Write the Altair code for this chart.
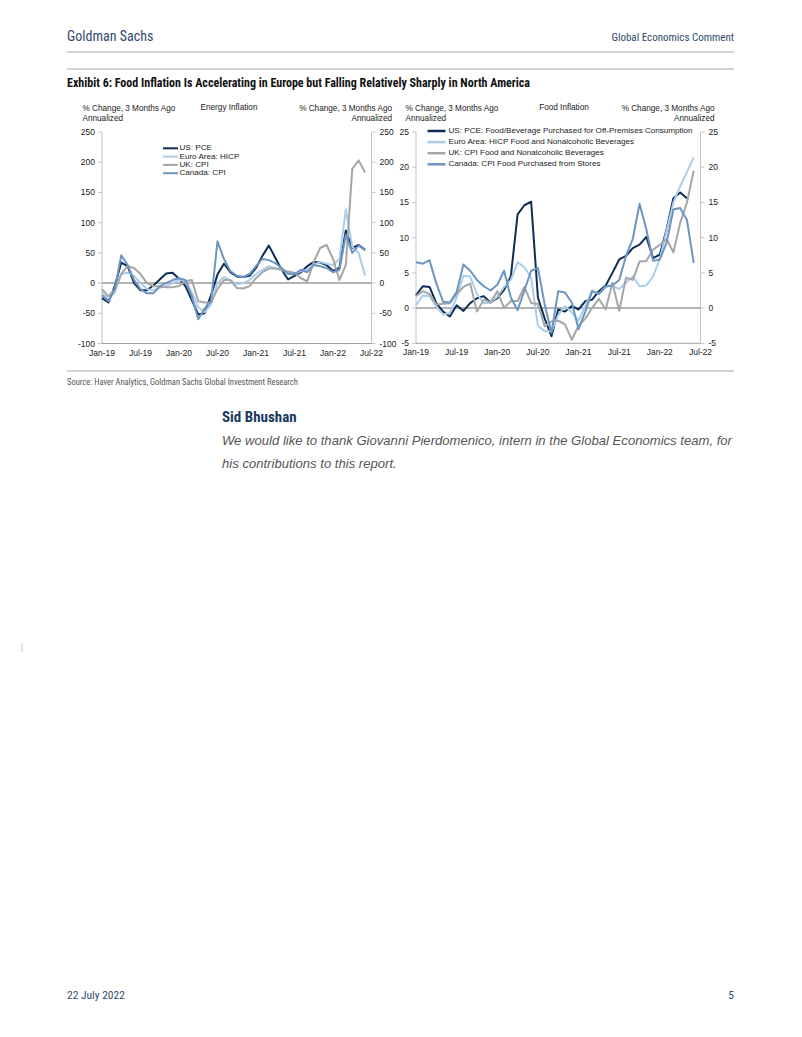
import altair as alt
import pandas as pd

# ---------------- data ----------------
tick_months = [0, 6, 12, 18, 24, 30, 36, 42]
tick_labels = ["Jan-19", "Jul-19", "Jan-20", "Jul-20", "Jan-21", "Jul-21", "Jan-22", "Jul-22"]

energy_names = ["US: PCE", "Euro Area: HICP", "UK: CPI", "Canada: CPI"]
energy_us = [-25, -32, -5, 34, 28, 0, -12, -12, -4, 6, 16, 17, 7, -5, -28, -52, -50, -20, 14, 32,
             18, 11, 10, 12, 25, 45, 62, 42, 22, 6, 12, 18, 28, 35, 34, 30, 20, 25, 87, 58, 63, 55]
energy_ea = [-15, -28, -15, 15, 17, 12, 0, -10, -12, -8, -5, 0, 5, 3, -15, -40, -48, -35, 0, 10,
             5, -2, 0, 5, 15, 22, 28, 25, 22, 18, 15, 20, 22, 30, 35, 32, 30, 40, 122, 60, 50, 12]
energy_uk = [-10, -22, -10, 15, 28, 25, 15, 0, -5, -6, -7, -7, -5, 3, 5, -30, -32, -32, -10, 5,
             5, -8, -9, -5, 8, 18, 24, 24, 22, 19, 17, 8, 3, 35, 58, 63, 40, 5, 30, 189, 203, 183]
energy_ca = [-20, -30, -10, 46, 30, 5, -10, -17, -17, -5, 0, 5, 8, 5, -22, -60, -42, -30, 69, 40,
             20, 12, 10, 15, 28, 40, 38, 33, 25, 15, 15, 22, 18, 30, 28, 25, 18, 22, 80, 50, 62, 55]

food_names = ["US: PCE: Food/Beverage Purchased for Off-Premises Consumption",
              "Euro Area: HICP Food and Nonalcoholic Beverages",
              "UK: CPI Food and Nonalcoholic Beverages",
              "Canada: CPI Food Purchased from Stores"]
food_us = [1.8, 3.1, 3.0, 0.7, -0.5, -1.2, 0.4, -0.4, 0.7, 1.4, 1.7, 0.8, 1.4, 2.6, 4.5, 13.3, 14.6, 15.1,
           1.5, -1.5, -4.0, -0.2, -0.5, 0.3, -0.2, 1.0, 1.2, 2.4, 3.2, 5.0, 6.9, 7.4, 8.5, 9.0, 10.1,
           7.1, 7.6, 11.2, 15.6, 16.4, 15.6]
food_ea = [0.4, 1.8, 1.7, 0.2, -0.9, -0.7, 1.5, 4.6, 4.5, 2.0, 0.7, 0.8, 1.6, 3.0, 4.0, 6.5, 5.8, 4.3,
           -2.5, -3.3, -3.3, -1.0, 0.3, -0.6, -1.8, 0.3, 2.5, 2.0, 3.0, 3.2, 2.7, 3.6, 4.5, 3.1, 3.2,
           4.5, 7.0, 11.0, 15.0, 17.3, 19.3, 21.4]
food_uk = [1.7, 2.4, 2.0, 0.5, 0.6, 0.7, 2.0, 3.0, 3.5, -0.5, 1.2, 0.8, 2.4, 0.0, 1.0, 1.0, 3.0, 0.7,
           0.6, -2.6, -1.9, -1.8, -2.3, -4.5, -2.5, -1.5, 0.0, 1.3, -0.2, 3.6, -0.4, 4.3, 4.0, 6.6,
           6.7, 8.3, 9.0, 9.8, 7.9, 12.1, 15.0, 19.5]
food_ca = [6.5, 6.3, 6.8, 3.5, 0.9, 0.8, 2.3, 6.2, 5.3, 4.0, 3.1, 2.5, 3.3, 5.3, 1.5, -0.3, 2.5, 5.3,
           5.7, 0.5, -3.5, 2.4, 2.2, 0.8, -3.0, -0.5, 2.4, 2.0, 3.1, 3.2, 4.0, 7.4, 9.8, 14.8, 11.2,
           6.7, 6.9, 9.3, 14.0, 14.2, 12.5, 6.4]

energy_ticks = [-100, -50, 0, 50, 100, 150, 200, 250]
food_ticks = [-5, 0, 5, 10, 15, 20, 25]

# ---------------- style ----------------
COLORS = ["#0d2d54", "#a9cdea", "#a6a6a6", "#6d95c2"]
M = 8
W, H = 786, 1021
NARROW = "Roboto Condensed, Liberation Sans Narrow, DejaVu Sans Condensed, sans-serif"
SANS = "Liberation Sans, Arial, Helvetica, sans-serif"
NAVY = "#2f4b6c"
FS = 8.2


def px(v):
    return v - M


def text(txt, x, y, size, color="#222222", font=SANS, align="left", weight="normal",
         style="normal"):
    return alt.Chart(pd.DataFrame({"t": [txt]})).mark_text(
        align=align, baseline="middle", fontSize=size, font=font, color=color,
        fontWeight=weight, fontStyle=style
    ).encode(x=alt.value(px(x)), y=alt.value(px(y)), text="t:N")


def hrule(x0, x1, y, color="#a6a6a6", width=1.0):
    return alt.Chart(pd.DataFrame({"a": [0]})).mark_rule(color=color, strokeWidth=width).encode(
        x=alt.value(px(x0)), x2=alt.value(px(x1)), y=alt.value(px(y)))


def panel(names, series, ticks, ydom, xr, yr):
    xs = alt.Scale(domain=[0, 42], range=[px(xr[0]), px(xr[1])], nice=False, zero=False)
    ys = alt.Scale(domain=ydom, range=[px(yr[0]), px(yr[1])], nice=False, zero=False)
    cs = alt.Scale(domain=names, range=COLORS)
    X = lambda f: alt.X(f, type="quantitative", scale=xs, axis=None)
    Y = lambda f: alt.Y(f, type="quantitative", scale=ys, axis=None)

    frame = pd.DataFrame({"m0": [0], "m1": [42], "lo": [ydom[0]], "hi": [ydom[1]], "z": [0]})
    tdf = pd.DataFrame({"v": ticks, "m0": 0, "m1": 42, "lab": [str(t) for t in ticks]})
    xdf = pd.DataFrame({"m": tick_months, "lab": tick_labels, "lo": ydom[0]})

    layers = [
        alt.Chart(frame).mark_rule(color="#c4c4c4", strokeWidth=1).encode(x=X("m0"), y=Y("lo"), y2="hi:Q"),
        alt.Chart(frame).mark_rule(color="#c4c4c4", strokeWidth=1).encode(x=X("m1"), y=Y("lo"), y2="hi:Q"),
        alt.Chart(frame).mark_rule(color="#a0a0a0", strokeWidth=1).encode(x=X("m0"), x2="m1:Q", y=Y("lo")),
        alt.Chart(frame).mark_rule(color="#9a9a9a", strokeWidth=1.5).encode(x=X("m0"), x2="m1:Q", y=Y("z")),
        alt.Chart(tdf).mark_rule(color="#c4c4c4", strokeWidth=1, x2Offset=-4).encode(x=X("m0"), x2="m0:Q", y=Y("v")),
        alt.Chart(tdf).mark_rule(color="#c4c4c4", strokeWidth=1, x2Offset=4).encode(x=X("m1"), x2="m1:Q", y=Y("v")),
        alt.Chart(tdf).mark_text(align="right", baseline="middle", dx=-7, fontSize=8.5, font=SANS,
                                 color="#222222").encode(x=X("m0"), y=Y("v"), text="lab:N"),
        alt.Chart(tdf).mark_text(align="left", baseline="middle", dx=8, fontSize=8.5, font=SANS,
                                 color="#222222").encode(x=X("m1"), y=Y("v"), text="lab:N"),
        alt.Chart(xdf).mark_text(align="center", baseline="middle", dy=9, fontSize=8.5, font=SANS,
                                 color="#222222").encode(x=X("m"), y=Y("lo"), text="lab:N"),
    ]
    for name, vals in zip(names, series):
        d = pd.DataFrame({"m": list(range(len(vals))), "v": vals, "name": name})
        layers.append(
            alt.Chart(d).mark_line(strokeWidth=2, strokeJoin="round").encode(
                x=X("m"), y=Y("v"),
                color=alt.Color("name:N", scale=cs, legend=None)))
    return alt.layer(*layers)


def legend(names, x0, x1, tx, y0, dy, sw):
    cs = alt.Scale(domain=names, range=COLORS)
    d = pd.DataFrame({"name": names})
    d["ly"] = [px(y0 + i * dy) for i in range(len(names))]
    d["lx0"] = px(x0)
    d["lx1"] = px(x1)
    d["tx"] = px(tx)
    sw_layer = alt.Chart(d).mark_rule(strokeWidth=sw).encode(
        x=alt.X("lx0:Q", scale=None), x2="lx1:Q", y=alt.Y("ly:Q", scale=None),
        color=alt.Color("name:N", scale=cs, legend=None))
    tx_layer = alt.Chart(d).mark_text(align="left", baseline="middle", fontSize=8.1, font=SANS,
                                      color="#222222").encode(
        x=alt.X("tx:Q", scale=None), y=alt.Y("ly:Q", scale=None), text="name:N")
    return [sw_layer, tx_layer]


left = panel(energy_names, [energy_us, energy_ea, energy_uk, energy_ca], energy_ticks,
             [-100, 250], (102, 371.5), (343.5, 132))
right = panel(food_names, [food_us, food_ea, food_uk, food_ca], food_ticks,
              [-5, 25], (416, 700.5), (343.3, 132))

page = [
    text("Goldman Sachs", 67, 37, 14, NAVY, NARROW),
    text("Global Economics Comment", 734, 38, 11, NAVY, NARROW, align="right"),
    hrule(67, 734, 52),
    hrule(67, 734, 69),
    text("Exhibit 6: Food Inflation Is Accelerating in Europe but Falling Relatively Sharply in North America",
         67, 83, 12, "#111111", NARROW, weight="bold"),
    # left panel titles
    text("% Change, 3 Months Ago", 82.5, 108.5, FS),
    text("Annualized", 82.5, 118.5, FS),
    text("Energy Inflation", 229, 107.5, FS, align="center"),
    text("% Change, 3 Months Ago", 392, 108.5, FS, align="right"),
    text("Annualized", 392, 118.5, FS, align="right"),
    # right panel titles
    text("% Change, 3 Months Ago", 405.5, 108.5, FS),
    text("Annualized", 405.5, 118.5, FS),
    text("Food Inflation", 564, 107.5, FS, align="center"),
    text("% Change, 3 Months Ago", 714.5, 108.5, FS, align="right"),
    text("Annualized", 714.5, 118.5, FS, align="right"),
    hrule(67, 734, 371),
    text("Source: Haver Analytics, Goldman Sachs Global Investment Research", 67, 382, 8.5,
         "#555555", NARROW),
    text("Sid Bhushan", 222, 417, 15, "#1b3a63", NARROW, weight="bold"),
    text("We would like to thank Giovanni Pierdomenico, intern in the Global Economics team, for",
         222, 441, 13.1, "#555555", SANS, style="italic"),
    text("his contributions to this report.", 222, 464, 13.1, "#555555", SANS, style="italic"),
    alt.Chart(pd.DataFrame({"a": [0]})).mark_rule(color="#cccccc", strokeWidth=1).encode(
        x=alt.value(px(22)), y=alt.value(px(643)), y2=alt.value(px(652))),
    text("22 July 2022", 67, 996, 11.5, NAVY, NARROW),
    text("5", 734, 996, 11.5, NAVY, NARROW, align="right"),
]

legs = (legend(energy_names, 163, 178, 179.5, 148.3, 8.3, 2)
        + legend(food_names, 427.5, 445.5, 448.5, 131, 11.1, 2.5))

chart = alt.layer(*page, left, right, *legs).resolve_scale(
    x="independent", y="independent", color="independent"
).properties(
    width=W, height=H, autosize=alt.AutoSizeParams(type="none"), padding=0,
    background="white"
).configure_view(stroke="transparent")

chart.save("out.html", embed_options={"renderer": "svg", "actions": False})
